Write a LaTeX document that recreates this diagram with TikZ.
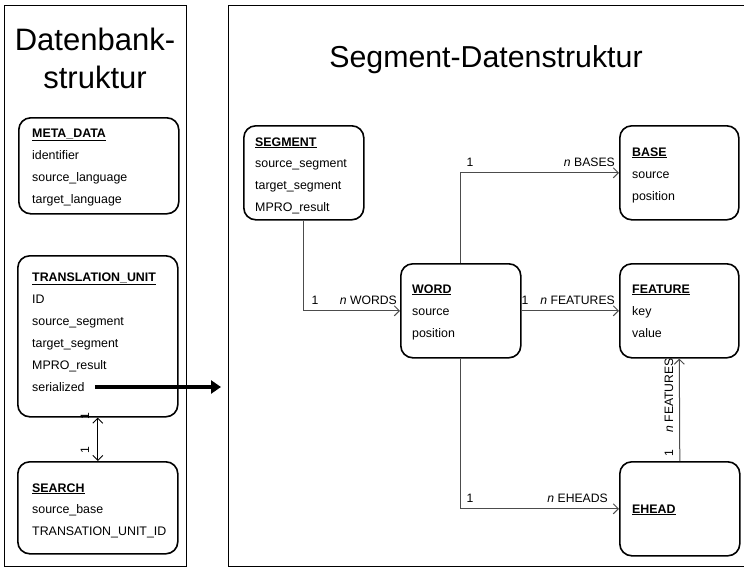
\documentclass[tikz,border=0pt]{standalone}
\usepackage{fontspec}
\setmainfont{Liberation Sans}
\usetikzlibrary{arrows.meta,calc}
\begin{document}
\begin{tikzpicture}[x=1pt,y=-1pt,
  frame/.style={draw, line width=1.4pt, inner sep=0, anchor=north west},
  ent/.style={draw, line width=1.6pt, rounded corners=12pt, inner sep=0, anchor=north west},
  attr/.style={anchor=base west, inner sep=0, font=\fontsize{12.4}{14}\selectfont},
  lbl/.style={inner sep=0, font=\fontsize{12.2}{14}\selectfont},
  conn/.style={draw=black!70, line width=1pt, -{Straight Barb[length=5pt,width=10pt]}},
  title/.style={inner sep=0, anchor=base, font=\fontsize{31}{36}\selectfont}]
\useasboundingbox (0,0) rectangle (744,568);
\begin{scope}
\clip (0,0) rectangle (744,568);
% frames
\node[frame, minimum width=182pt, minimum height=561pt] (lframe) at (4,5) {};
\node[frame, minimum width=540pt, minimum height=561pt] (rframe) at (228,5) {};
\end{scope}
% titles
\node[title] (t1) at (95,50) {Datenbank-};
\node[title] (t2) at (95,88) {struktur};
\node[title, font=\fontsize{30.3}{36}\selectfont] (t3) at (486,67) {Segment-Datenstruktur};
% entity boxes
\node[ent, minimum width=160pt, minimum height=96pt] (meta) at (18,117) {};
\node[ent, minimum width=160pt, minimum height=161pt] (tu) at (17,255) {};
\node[ent, minimum width=160pt, minimum height=92pt] (search) at (17,461) {};
\node[ent, minimum width=120pt, minimum height=94pt] (seg) at (243,125) {};
\node[ent, minimum width=120pt, minimum height=94pt] (word) at (400,263) {};
\node[ent, minimum width=119pt, minimum height=94pt] (base) at (619,125) {};
\node[ent, minimum width=119pt, minimum height=94pt] (feat) at (619,263) {};
\node[ent, minimum width=120pt, minimum height=94pt] (ehead) at (619,461) {};
% attributes
\foreach \t [count=\i] in {\textbf{\underline{META\_DATA}}, identifier, source\_language, target\_language}
  \node[attr] (meta-\i) at (32,{137+22*(\i-1)}) {\t};
\foreach \t [count=\i] in {\textbf{\underline{TRANSLATION\_UNIT}}, ID, source\_segment, target\_segment, MPRO\_result, serialized}
  \node[attr] (tu-\i) at (32,{281+22*(\i-1)}) {\t};
\foreach \t [count=\i] in {\textbf{\underline{SEARCH}}, source\_base, TRANSATION\_UNIT\_ID}
  \node[attr] (search-\i) at (32,{492+21.7*(\i-1)}) {\t};
\foreach \t [count=\i] in {\textbf{\underline{SEGMENT}}, source\_segment, target\_segment, MPRO\_result}
  \node[attr] (seg-\i) at (255,{146+21.7*(\i-1)}) {\t};
\foreach \t [count=\i] in {\textbf{\underline{WORD}}, source, position}
  \node[attr] (word-\i) at (412,{293+22*(\i-1)}) {\t};
\foreach \t [count=\i] in {\textbf{\underline{BASE}}, source, position}
  \node[attr] (base-\i) at (632,{156+22*(\i-1)}) {\t};
\foreach \t [count=\i] in {\textbf{\underline{FEATURE}}, key, value}
  \node[attr] (feat-\i) at (632,{293+22*(\i-1)}) {\t};
\node[attr] (ehead-1) at (632,513) {\textbf{\underline{EHEAD}}};
% connectors
\draw[conn] (seg.south) |- (word.west);
\draw[conn] (word.north) |- (base.west);
\draw[conn] (word.east) -- (feat.west);
\draw[conn] (word.south) |- (ehead.west);
\draw[conn] (ehead.north) -- (feat.south);
\draw[line width=0.9pt, {Straight Barb[length=5pt,width=10pt]}-{Straight Barb[length=5pt,width=10pt]}] (tu.south) -- (search.north);
\draw[line width=4pt, -{Triangle[length=10pt,width=13pt]}, shorten <=10pt, shorten >=7pt] (tu-6.base east) ++(0,-4) coordinate (sstart) -- (sstart -| rframe.west);
% labels
\node[lbl, anchor=base] (l1) at (315,304) {1};
\node[lbl, anchor=base east] (l2) at (397,304) {\textit{n} WORDS};
\node[lbl, anchor=base] (l3) at (470,166) {1};
\node[lbl, anchor=base east] (l4) at (615,166) {\textit{n} BASES};
\node[lbl, anchor=base] (l5) at (525,304) {1};
\node[lbl, anchor=base east] (l6) at (615,304) {\textit{n} FEATURES};
\node[lbl, anchor=base] (l7) at (470,502) {1};
\node[lbl, anchor=base east] (l8) at (608,502) {\textit{n} EHEADS};
\node[lbl, rotate=90, anchor=base] (l9) at (673,453) {1};
\node[lbl, rotate=90, anchor=base east] (l10) at (673,358) {\textit{n} FEATURES};
\node[lbl, rotate=90, anchor=base] (l11) at (89,416) {1};
\node[lbl, rotate=90, anchor=base] (l12) at (89,450) {1};
\end{tikzpicture}
\end{document}
